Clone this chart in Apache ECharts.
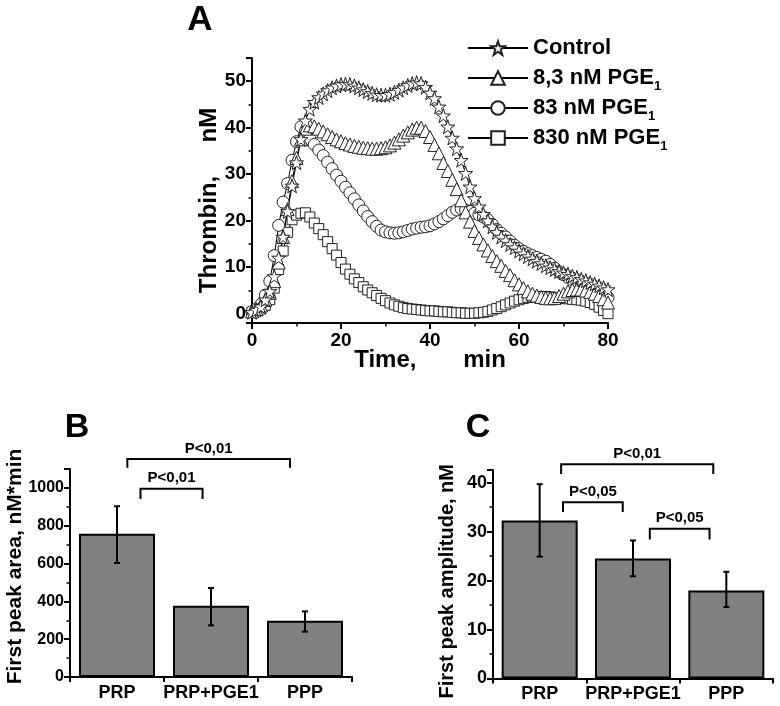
<!DOCTYPE html>
<html>
<head>
<meta charset="utf-8">
<script src="https://cdn.jsdelivr.net/npm/echarts/dist/echarts.min.js"></script>
<style>html,body{margin:0;padding:0;background:#fff}#c{width:780px;height:706px}</style>
</head>
<body>
<div id="c"></div>
<script>
// ---------- Panel A data ----------
const time = [0,1,2,3,4,5,6,7,8,9,10,11,12,13,14,15,16,17,18,19,20,21,22,23,24,25,26,27,28,29,30,31,32,33,34,35,36,37,38,39,40,41,42,43,44,45,46,47,48,49,50,51,52,53,54,55,56,57,58,59,60,61,62,63,64,65,66,67,68,69,70,71,72,73,74,75,76,77,78,79,80];
const control = [0.3,0.8,1.5,3,4.8,8,12,16.5,22,27.5,32.5,37.5,41.5,44,45.5,46.5,47.3,48,48.6,49,49.3,49.4,49.3,49,48.6,48.2,47.8,47.4,47.1,47,47,47.2,47.6,48.1,48.6,49.1,49.5,49.7,49.5,48.7,47.5,46.3,44.5,42.6,40.2,37.8,35.5,33,30.2,27.3,24.8,23,21.4,20,18.7,17.5,16.5,15.7,14.9,14.2,13.5,12.9,12.3,11.8,11.3,10.8,10.3,9.9,9.5,9.1,8.8,8.5,8.1,7.8,7.4,7.1,6.7,6.4,6,5.6,5.2];
const pge8_3 = [0.5,1,1.8,3,4.5,7,11,16.5,22.5,28.5,33.5,37.5,39.8,40.5,40.3,39.8,39.2,38.6,38,37.5,37.1,36.7,36.4,36.1,35.9,35.7,35.6,35.5,35.5,35.6,35.8,36.2,36.8,37.5,38.3,39,39.6,40,40,39.3,38,36.3,34.5,32.4,30.7,28.8,26.8,24.4,21.8,19.8,17.8,16.3,14.9,13.6,12.4,11.3,10.3,9.2,8.3,7.2,6.3,5.5,4.8,4.3,3.9,3.6,3.4,3.3,3.4,3.8,4.3,4.8,5.1,5.2,5.2,5,4.7,4.3,3.8,3.1,2.4];
const pge83 = [0.5,1,2,4,7,12.5,19,24,28,33,37,40.2,39.2,37.6,36.4,35.2,34,32.6,31.2,29.8,28.5,27.2,26,24.7,23.4,22.1,20.9,19.8,18.8,18,17.6,17.4,17.3,17.4,17.6,17.9,18.2,18.4,18.6,18.7,18.9,19.3,19.8,20.4,21.1,21.8,22.3,22.6,22.3,22,21.6,21.3,20.8,20.2,19.2,18.1,17.3,16.5,15.6,14.7,14,13.4,12.9,12.5,12.1,11.7,11.3,10.6,9.8,9,8.4,7.8,7.3,6.8,6.3,5.9,5.5,5,4.5,4,3.5];
const pge830 = [0.3,0.6,1,1.8,3,5.5,9.5,13.5,17.5,20.2,21.2,21.6,21.7,20.8,19.5,18.3,17,15.5,14,12.6,11,9.6,8.5,7.5,6.7,5.8,5.1,4.5,3.9,3.3,2.8,2.3,1.9,1.6,1.3,1.1,1,0.9,0.8,0.7,0.6,0.6,0.5,0.4,0.4,0.3,0.2,0.2,0.1,0.1,0.1,0.2,0.3,0.5,0.8,1.1,1.5,1.9,2.3,2.7,3,3.3,3.5,3.6,3.7,3.7,3.7,3.6,3.5,3.4,3.3,3.2,3.1,3,2.9,2.7,2.4,2,1.4,0.7,0];
const seriesNames = ['Control', '8,3 nM PGE1', '83 nM PGE1', '830 nM PGE1'];
const xTicksA = [0, 20, 40, 60, 80];

// ---------- Panel B data ----------
const groups = ['PRP', 'PRP+PGE1', 'PPP'];
const areaMean = [757, 377, 298];
const areaLow = [603, 273, 240];
const areaHigh = [903, 471, 347];
const bFrom = [0.11, 0.25];
const bTo = [1.84, 0.91];
const bLevel = [1153, 995];
const bTip = [1107, 942];
const bText = ['P<0,01', 'P<0,01'];

// ---------- Panel C data ----------
const ampMean = [32.3, 24.5, 18.0];
const ampLow = [24.9, 20.9, 14.6];
const ampHigh = [39.7, 28.2, 21.8];
const cFrom = [0.23, 0.25, 1.18];
const cTo = [1.86, 0.89, 1.82];
const cLevel = [43.8, 36.0, 30.6];
const cTip = [41.8, 34.0, 28.4];
const cText = ['P<0,01', 'P<0,05', 'P<0,05'];

const FF = '"Liberation Sans", Arial, Helvetica, sans-serif';
const STAR = 'path://M50,2 L61.5,36 L97,36 L68.5,57.5 L79.5,92 L50,71 L20.5,92 L31.5,57.5 L3,36 L38.5,36 Z';

function pairs(v) { return time.map((t, i) => [t, v[i]]); }

const axisLine = { show: true, onZero: false, lineStyle: { color: '#000', width: 2 } };
const axisTick = { show: true, length: 6, lineStyle: { color: '#000', width: 2 } };
const minorTick = { show: true, splitNumber: 2, length: 3.5, lineStyle: { color: '#000', width: 1.5 } };
function lbl(size, margin) {
  return { color: '#000', fontSize: size, fontWeight: 'bold', fontFamily: FF, margin: margin,
           hideOverlap: false, formatter: v => String(v) };
}
function catLbl(size, margin) {
  return { color: '#000', fontSize: size, fontWeight: 'bold', fontFamily: FF, margin: margin,
           interval: 0, hideOverlap: false };
}

function errorRender(params, api) {
  const x = api.value(0);
  const pLo = api.coord([x, api.value(1)]);
  const pHi = api.coord([x, api.value(2)]);
  const cap = 3;
  const st = { stroke: '#000', lineWidth: 2 };
  return { type: 'group', children: [
    { type: 'line', shape: { x1: pLo[0], y1: pLo[1], x2: pHi[0], y2: pHi[1] }, style: st },
    { type: 'line', shape: { x1: pLo[0] - cap, y1: pLo[1], x2: pLo[0] + cap, y2: pLo[1] }, style: st },
    { type: 'line', shape: { x1: pHi[0] - cap, y1: pHi[1], x2: pHi[0] + cap, y2: pHi[1] }, style: st }
  ]};
}

function bracketRender(from, to, level, tip, text) {
  return function (params, api) {
    const i = params.dataIndex;
    const band = api.coord([1, 0])[0] - api.coord([0, 0])[0];
    const xAt = v => { const k = Math.round(v); return api.coord([k, 0])[0] + (v - k) * band; };
    const x1 = xAt(from[i]), x2 = xAt(to[i]);
    const yL = api.coord([0, level[i]])[1];
    const yT = api.coord([0, tip[i]])[1];
    return { type: 'group', children: [
      { type: 'polyline', shape: { points: [[x1, yT], [x1, yL], [x2, yL], [x2, yT]] },
        style: { stroke: '#000', lineWidth: 2, fill: null } },
      { type: 'text', x: (x1 + x2) / 2, y: yL - 3,
        style: { text: text[i], align: 'center', verticalAlign: 'bottom', textAlign: 'center', textVerticalAlign: 'bottom',
                 fontSize: 15, fontWeight: 'bold', fontFamily: FF, fill: '#000' } }
    ]};
  };
}

const symbolSpec = [
  { name: seriesNames[3], data: pge830, symbol: 'rect', size: 10 },
  { name: seriesNames[2], data: pge83, symbol: 'circle', size: 12 },
  { name: seriesNames[1], data: pge8_3, symbol: 'triangle', size: 13 },
  { name: seriesNames[0], data: control, symbol: STAR, size: 14 }
];

const lineSeries = symbolSpec.map(s => ({
  type: 'line', name: s.name, xAxisIndex: 0, yAxisIndex: 0,
  data: pairs(s.data), symbol: s.symbol, symbolSize: s.size, showSymbol: true,
  lineStyle: { color: '#000', width: 1 },
  itemStyle: { color: '#fff', borderColor: '#222', borderWidth: 1 },
  emphasis: { disabled: true }, silent: true, animation: false
}));

const chart = echarts.init(document.getElementById('c'), null, { renderer: 'canvas' });
chart.setOption({
  animation: false,
  backgroundColor: '#fff',
  textStyle: { fontFamily: FF },
  graphic: [
    { type: 'text', x: 200, y: 20, style: { text: 'A', fontSize: 35, fontWeight: 'bold', fontFamily: FF, fill: '#000', align: 'center', verticalAlign: 'middle', textAlign: 'center', textVerticalAlign: 'middle' } },
    { type: 'text', x: 77, y: 428, style: { text: 'B', fontSize: 34, fontWeight: 'bold', fontFamily: FF, fill: '#000', align: 'center', verticalAlign: 'middle', textAlign: 'center', textVerticalAlign: 'middle' } },
    { type: 'text', x: 478, y: 428, style: { text: 'C', fontSize: 34, fontWeight: 'bold', fontFamily: FF, fill: '#000', align: 'center', verticalAlign: 'middle', textAlign: 'center', textVerticalAlign: 'middle' } }
  ],
  legend: {
    data: seriesNames, orient: 'vertical', left: 462, top: 28,
    itemWidth: 60, itemHeight: 17, itemGap: 0, selectedMode: false,
    lineStyle: { width: 2, color: '#000' },
    formatter: n => n.replace(/PGE1$/, 'PGE{s|1}'),
    textStyle: { color: '#000', fontSize: 22, fontWeight: 'bold', fontFamily: FF, lineHeight: 30,
      rich: { s: { fontSize: 13, fontWeight: 'bold', fontFamily: FF, color: '#000', lineHeight: 13, verticalAlign: 'bottom' } } }
  },
  grid: [
    { left: 252, top: 58, width: 356, height: 265, containLabel: false, outerBoundsMode: 'none' },
    { left: 70, top: 469, width: 282, height: 208, containLabel: false, outerBoundsMode: 'none' },
    { left: 493, top: 470, width: 280, height: 208.5, containLabel: false, outerBoundsMode: 'none' }
  ],
  xAxis: [
    { type: 'value', gridIndex: 0, min: xTicksA[0], max: xTicksA[xTicksA.length - 1], interval: 20,
      axisLine: axisLine, axisTick: axisTick, minorTick: minorTick, splitLine: { show: false },
      axisLabel: lbl(19, 8),
      name: 'Time,       min', nameLocation: 'middle', nameGap: 25, nameMoveOverlap: false,
      nameTextStyle: { color: '#000', fontSize: 24, fontWeight: 'bold', fontFamily: FF } },
    { type: 'category', gridIndex: 1, data: groups,
      axisLine: axisLine, axisTick: { show: true, length: 5, lineStyle: { color: '#000', width: 2 } },
      axisLabel: catLbl(18, 7) },
    { type: 'category', gridIndex: 2, data: groups,
      axisLine: axisLine, axisTick: { show: true, length: 5, lineStyle: { color: '#000', width: 2 } },
      axisLabel: catLbl(18, 7) }
  ],
  yAxis: [
    { type: 'value', gridIndex: 0, min: -2, max: 55, splitNumber: 5,
      axisLine: axisLine, axisTick: axisTick, minorTick: minorTick, splitLine: { show: false },
      axisLabel: Object.assign(lbl(19, 6), { showMinLabel: false, showMaxLabel: false }),
      name: 'Thrombin,     nM', nameLocation: 'middle', nameGap: 31, nameMoveOverlap: false,
      nameTextStyle: { color: '#000', fontSize: 24, fontWeight: 'bold', fontFamily: FF, padding: [0, 20, 0, 0] } },
    { type: 'value', gridIndex: 1, min: 0, max: 1100, interval: 200,
      axisLine: axisLine, axisTick: axisTick, minorTick: minorTick, splitLine: { show: false },
      axisLabel: Object.assign(lbl(16, 6), { showMaxLabel: false }),
      name: 'First peak area, nM*min', nameLocation: 'middle', nameGap: 44, nameMoveOverlap: false,
      nameTextStyle: { color: '#000', fontSize: 21, fontWeight: 'bold', fontFamily: FF, padding: [0, 0, 0, 13] } },
    { type: 'value', gridIndex: 2, min: 0, max: 42.6, interval: 10,
      axisLine: axisLine, axisTick: axisTick, minorTick: minorTick, splitLine: { show: false },
      axisLabel: Object.assign(lbl(18, 6), { showMaxLabel: false }),
      name: 'First peak amplitude, nM', nameLocation: 'middle', nameGap: 36, nameMoveOverlap: false,
      nameTextStyle: { color: '#000', fontSize: 20, fontWeight: 'bold', fontFamily: FF, padding: [0, 14, 0, 0] } }
  ],
  series: lineSeries.concat([
    { type: 'bar', xAxisIndex: 1, yAxisIndex: 1, data: areaMean, barWidth: 76, silent: true,
      itemStyle: { color: '#808080', borderColor: '#000', borderWidth: 2 } },
    { type: 'custom', xAxisIndex: 1, yAxisIndex: 1, z: 5, clip: false, silent: true,
      data: groups.map((g, i) => [i, areaLow[i], areaHigh[i]]), encode: { x: 0, y: [1, 2] },
      renderItem: errorRender },
    { type: 'custom', xAxisIndex: 1, yAxisIndex: 1, z: 5, clip: false, silent: true,
      data: bFrom.map((v, i) => [Math.round(v), bLevel[i]]), encode: { x: 0, y: 1 },
      renderItem: bracketRender(bFrom, bTo, bLevel, bTip, bText) },
    { type: 'bar', xAxisIndex: 2, yAxisIndex: 2, data: ampMean, barWidth: 76, silent: true,
      itemStyle: { color: '#808080', borderColor: '#000', borderWidth: 2 } },
    { type: 'custom', xAxisIndex: 2, yAxisIndex: 2, z: 5, clip: false, silent: true,
      data: groups.map((g, i) => [i, ampLow[i], ampHigh[i]]), encode: { x: 0, y: [1, 2] },
      renderItem: errorRender },
    { type: 'custom', xAxisIndex: 2, yAxisIndex: 2, z: 5, clip: false, silent: true,
      data: cFrom.map((v, i) => [Math.round(v), cLevel[i]]), encode: { x: 0, y: 1 },
      renderItem: bracketRender(cFrom, cTo, cLevel, cTip, cText) }
  ])
});
</script>
</body>
</html>
